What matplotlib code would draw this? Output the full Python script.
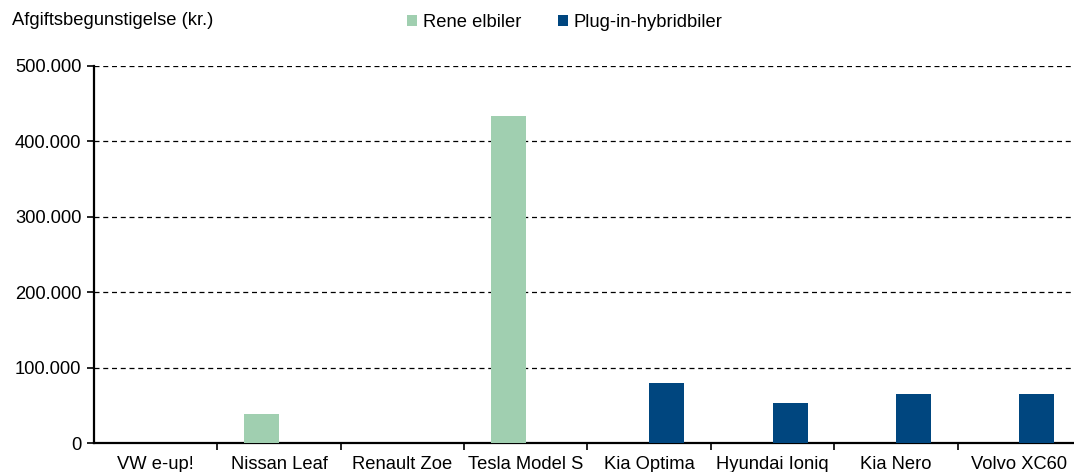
import numpy as np
import matplotlib.pyplot as plt
from matplotlib.ticker import FuncFormatter, FixedLocator

cars = ["VW e-up!", "Nissan Leaf", "Renault Zoe", "Tesla Model S",
        "Kia Optima", "Hyundai Ioniq", "Kia Nero", "Volvo XC60"]
elbiler = [0, 38500, 0, 434000, 0, 0, 0, 0]
hybrid = [0, 0, 0, 0, 79000, 53000, 65500, 65500]

green = "#a0cfb0"
blue = "#00467f"

plt.rcParams['font.family'] = ['Liberation Sans', 'DejaVu Sans']
fs = 13.2

fig = plt.figure(figsize=(10.74, 4.72), dpi=100)
ax = fig.add_axes([0.0875, 0.0614, 0.919, 0.799])

x = np.arange(len(cars))
w = 0.285
ax.bar(x - w / 2, elbiler, w, color=green, label="Rene elbiler", zorder=3)
ax.bar(x + w / 2, hybrid, w, color=blue, label="Plug-in-hybridbiler", zorder=3)

ax.set_xlim(-0.5, len(cars) - 0.5)
ax.set_ylim(0, 500000)
ax.set_yticks(np.arange(0, 500001, 100000))
ax.yaxis.set_major_formatter(FuncFormatter(lambda v, p: "0" if v == 0 else f"{int(v):,}".replace(",", ".")))
ax.yaxis.grid(True, color="black", linestyle=(0, (4, 3)), linewidth=0.9, zorder=0)

ax.set_xticks(x)
ax.set_xticklabels(cars)
ax.tick_params(axis="x", which="major", length=0, labelsize=fs, pad=9)
ax.xaxis.set_minor_locator(FixedLocator(np.arange(0.5, len(cars) - 0.5, 1)))
ax.tick_params(axis="x", which="minor", length=5, width=1.2, direction="out")
ax.tick_params(axis="y", length=5, width=1.2, labelsize=fs, pad=4)

for s in ["top", "right"]:
    ax.spines[s].set_visible(False)
for s in ["left", "bottom"]:
    ax.spines[s].set_linewidth(1.6)

fig.text(0.011, 0.957, "Afgiftsbegunstigelse (kr.)", fontsize=fs, va="center")
fig.legend(loc="center", bbox_to_anchor=(0.526, 0.953), ncol=2, frameon=False,
           fontsize=fs, handlelength=0.55, handleheight=0.55, handletextpad=0.3,
           columnspacing=2.0, borderpad=0, borderaxespad=0)

fig.savefig("out.png", dpi=100)
